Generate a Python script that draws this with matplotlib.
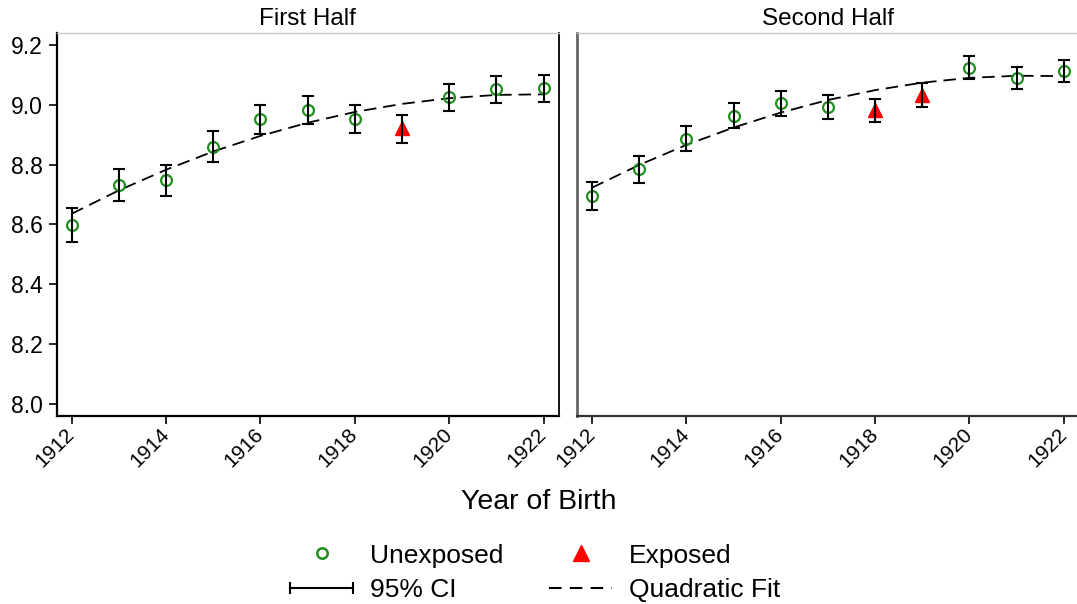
import matplotlib
matplotlib.use("Agg")
import matplotlib.pyplot as plt
from matplotlib.lines import Line2D
from matplotlib.legend_handler import HandlerLine2D

plt.rcParams["font.family"] = ["Liberation Sans", "DejaVu Sans"]
plt.rcParams["lines.scale_dashes"] = False

# DATA
years = [1912, 1913, 1914, 1915, 1916, 1917, 1918, 1919, 1920, 1921, 1922]

# first half
mean_first = [8.597, 8.731, 8.747, 8.859, 8.951, 8.982, 8.953, 8.921, 9.025, 9.052, 9.055]
lo_first = [8.540, 8.677, 8.695, 8.809, 8.901, 8.935, 8.906, 8.871, 8.980, 9.007, 9.010]
hi_first = [8.654, 8.784, 8.798, 8.911, 8.999, 9.031, 8.999, 8.967, 9.069, 9.097, 9.100]
fit_first = [8.636, 8.714, 8.783, 8.844, 8.896, 8.940, 8.976, 9.003, 9.022, 9.033, 9.035]
exposed_first = [1919]

# second half
mean_second = [8.695, 8.784, 8.887, 8.963, 9.005, 8.993, 8.981, 9.034, 9.124, 9.090, 9.113]
lo_second = [8.648, 8.739, 8.844, 8.922, 8.963, 8.951, 8.941, 8.993, 9.086, 9.053, 9.075]
hi_second = [8.742, 8.829, 8.930, 9.007, 9.047, 9.034, 9.019, 9.074, 9.163, 9.126, 9.149]
fit_second = [8.723, 8.799, 8.866, 8.924, 8.974, 9.016, 9.049, 9.074, 9.090, 9.097, 9.096]
exposed_second = [1918, 1919]

panel_titles = ["First Half", "Second Half"]
y_ticks = [8.0, 8.2, 8.4, 8.6, 8.8, 9.0, 9.2]
x_ticks = [1912, 1914, 1916, 1918, 1920, 1922]

GREEN = "#1f8f1f"
RED = "#ff0000"

fig = plt.figure(figsize=(10.77, 6.04), dpi=100)
ax1 = fig.add_axes([0.0526, 0.3118, 0.4661, 0.6331])
ax2 = fig.add_axes([0.5357, 0.3118, 0.4661, 0.6331])


def draw_panel(ax, mean, lo, hi, fit, exposed, title):
    unexp_x = [y for y in years if y not in exposed]
    unexp_y = [m for y, m in zip(years, mean) if y not in exposed]
    exp_x = [y for y in years if y in exposed]
    exp_y = [m for y, m in zip(years, mean) if y in exposed]
    err_lo = [m - l for m, l in zip(mean, lo)]
    err_hi = [h - m for m, h in zip(mean, hi)]

    ax.plot(years, fit, color="black", lw=1.3, dashes=(9, 5), zorder=2)
    ax.plot(unexp_x, unexp_y, "o", ms=7.8, mfc="none", mec=GREEN, mew=1.6, zorder=3)
    ax.plot(exp_x, exp_y, "^", ms=9.5, color=RED, mec=RED, zorder=3)
    ax.errorbar(years, mean, yerr=[err_lo, err_hi], fmt="none", ecolor="black",
                elinewidth=1.5, capsize=4.3, capthick=1.5, zorder=4)

    ax.set_xlim(1911.68, 1922.32)
    ax.set_ylim(7.961, 9.239)
    ax.set_yticks(y_ticks)
    ax.set_yticklabels([f"{v:.1f}" for v in y_ticks])
    ax.set_xticks(x_ticks)
    ax.set_xticklabels([str(v) for v in x_ticks], rotation=45, ha="right",
                       va="center", rotation_mode="anchor")
    ax.tick_params(axis="both", width=1.2, length=6, color="black")
    ax.tick_params(axis="x", pad=5, labelsize=15)
    ax.tick_params(axis="y", pad=4, labelsize=16.5)
    ax.set_title(title, fontsize=17.5, pad=6)
    ax.spines["top"].set_color("#c8c8c8")
    ax.spines["top"].set_linewidth(1.0)
    ax.spines["bottom"].set_linewidth(1.6)
    ax.spines["left"].set_linewidth(1.6)


draw_panel(ax1, mean_first, lo_first, hi_first, fit_first, exposed_first, panel_titles[0])
draw_panel(ax2, mean_second, lo_second, hi_second, fit_second, exposed_second, panel_titles[1])

ax1.spines["right"].set_linewidth(1.3)
ax2.spines["left"].set_color("#666666")
ax2.spines["left"].set_linewidth(2.0)
ax2.spines["bottom"].set_color("#333333")
ax2.spines["right"].set_visible(False)
ax2.tick_params(axis="y", left=False, labelleft=False)

fig.text(539 / 1077, 1 - 502 / 604, "Year of Birth", ha="center", va="center", fontsize=20.5)

# LEGEND
h_unexp = Line2D([], [], ls="none", marker="o", ms=7.5, mfc="none", mec=GREEN, mew=1.8)
h_ci = Line2D([], [], color="black", lw=1.5, marker="|", ms=9, mew=1.5)
h_exp = Line2D([], [], ls="none", marker="^", ms=11, color=RED)
h_fit = Line2D([], [], color="black", lw=1.5, dashes=(9, 6))

fig.legend([h_unexp, h_ci, h_exp, h_fit],
           ["Unexposed", "95% CI", "Exposed", "Quadratic Fit"],
           ncol=2, loc="center", bbox_to_anchor=(535 / 1077, 1 - 573 / 604),
           frameon=False, fontsize=19, handlelength=2.4, handletextpad=0.62,
           columnspacing=1.75, labelspacing=0.4,
           handler_map={h_ci: HandlerLine2D(numpoints=2, marker_pad=0)})

fig.savefig("out.png", dpi=100)
